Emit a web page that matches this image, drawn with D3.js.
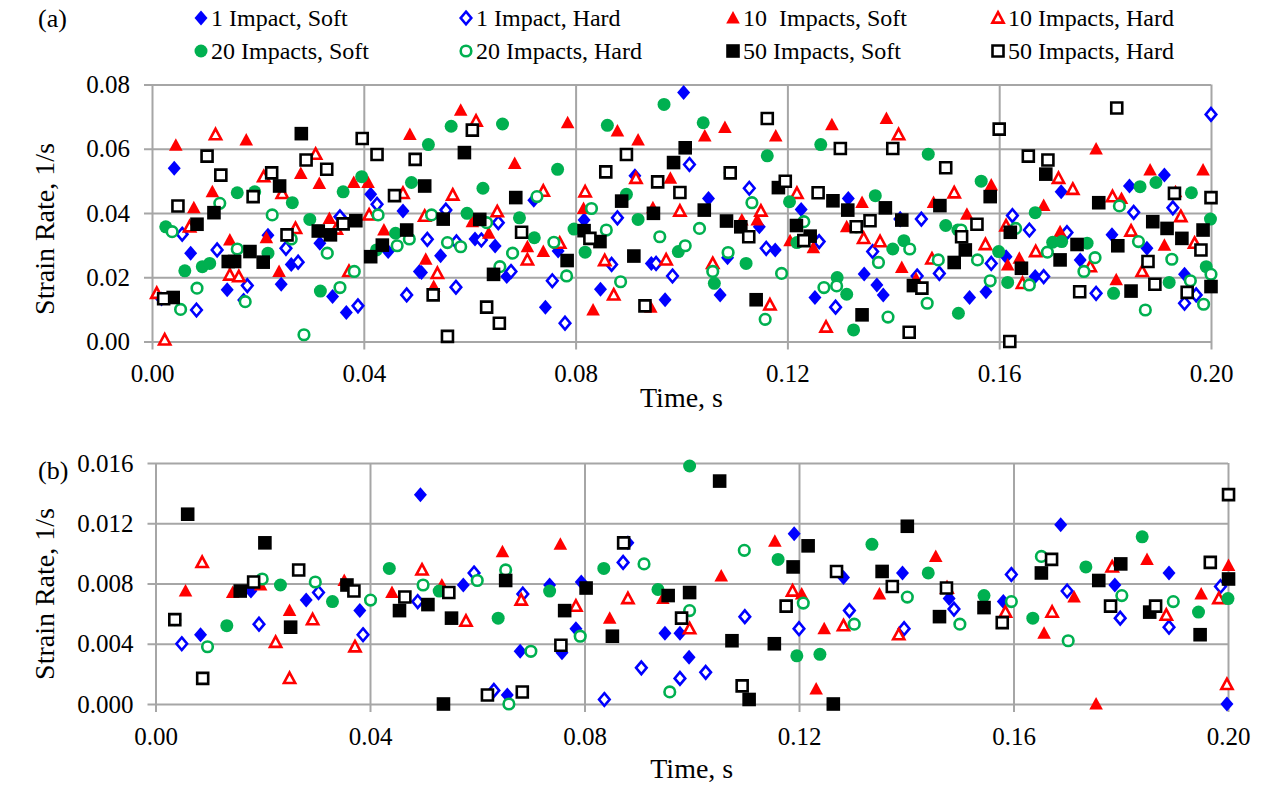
<!DOCTYPE html>
<html>
<head>
<meta charset="utf-8">
<script src="https://cdn.jsdelivr.net/npm/d3@7"></script>
<style>
  body { margin: 0; background: #fff; }
  text { font-family: "Liberation Serif", "Times New Roman", serif; fill: #000; }
</style>
</head>
<body>
<div id="chart"></div>
<script>
// ---- data: [time (s), strain rate (1/s)] ----
var impact1SoftA = [[0.0042,0.0539],[0.0474,0.0406],[0.0413,0.0458],[0.0073,0.0275],[0.0219,0.0331],[0.0263,0.024],[0.0244,0.0178],[0.0505,0.0218],[0.0142,0.0161],[0.0173,0.0129],[0.0341,0.014],[0.0367,0.009],[0.0317,0.0306],[0.0446,0.028],[0.0018,0.0132],[0.0721,0.044],[0.061,0.0319],[0.0648,0.0297],[0.0767,0.0282],[0.0545,0.0267],[0.067,0.0202],[0.0509,0.0215],[0.0743,0.0107],[0.1004,0.0775],[0.0912,0.0516],[0.0816,0.0378],[0.0943,0.0243],[0.0847,0.0163],[0.0969,0.013],[0.1051,0.0445],[0.1147,0.0357],[0.1177,0.0285],[0.1087,0.0261],[0.1073,0.0145],[0.1315,0.0445],[0.1226,0.0411],[0.1345,0.021],[0.1369,0.0176],[0.1381,0.0145],[0.1252,0.0137],[0.1717,0.0466],[0.1912,0.0518],[0.1846,0.0484],[0.1613,0.0264],[0.1753,0.0254],[0.1813,0.0332],[0.1879,0.029],[0.195,0.0209],[0.1668,0.0202],[0.1575,0.0155],[0.1544,0.0137]];
var impact1HardA = [[0.0425,0.0427],[0.0057,0.0334],[0.0123,0.0285],[0.0253,0.029],[0.0355,0.0388],[0.0276,0.0247],[0.018,0.0174],[0.0389,0.0111],[0.0481,0.0145],[0.0084,0.0098],[0.0555,0.0409],[0.0654,0.037],[0.052,0.0318],[0.0622,0.0316],[0.0575,0.031],[0.0678,0.0218],[0.0756,0.0189],[0.0574,0.0169],[0.078,0.0057],[0.1015,0.0551],[0.0879,0.0385],[0.0868,0.024],[0.0952,0.0243],[0.0983,0.0204],[0.1128,0.0477],[0.116,0.029],[0.126,0.0311],[0.1291,0.0107],[0.1413,0.0381],[0.1361,0.028],[0.1453,0.0381],[0.1487,0.0212],[0.1445,0.0204],[0.2,0.0707],[0.1854,0.0402],[0.1928,0.0416],[0.1625,0.0392],[0.1657,0.0347],[0.1728,0.0339],[0.1972,0.0145],[0.195,0.0119],[0.1783,0.015],[0.1684,0.0202],[0.1585,0.0243]];
var impact10SoftA = [[0.0045,0.0611],[0.0178,0.0627],[0.0281,0.0523],[0.0316,0.0492],[0.0381,0.0495],[0.0408,0.0495],[0.0487,0.0644],[0.0114,0.0466],[0.0079,0.0416],[0.0147,0.0316],[0.0216,0.0323],[0.0335,0.0383],[0.0438,0.0347],[0.024,0.0218],[0.0583,0.072],[0.0785,0.0681],[0.0685,0.0554],[0.0605,0.0373],[0.0636,0.0337],[0.0709,0.0295],[0.0739,0.028],[0.0517,0.0256],[0.0532,0.0171],[0.0879,0.0655],[0.0918,0.0627],[0.0979,0.0508],[0.0815,0.0414],[0.0946,0.0416],[0.0833,0.0098],[0.0942,0.0107],[0.1044,0.064],[0.1082,0.0666],[0.1178,0.064],[0.1143,0.0378],[0.1114,0.0378],[0.1284,0.0675],[0.1387,0.0694],[0.1341,0.0433],[0.1205,0.0314],[0.1249,0.0292],[0.1312,0.0357],[0.1476,0.0433],[0.1416,0.023],[0.1443,0.0195],[0.1783,0.0599],[0.1585,0.0487],[0.1885,0.0534],[0.1985,0.0534],[0.1933,0.0466],[0.1831,0.0445],[0.1684,0.0423],[0.1539,0.0396],[0.1715,0.0342],[0.1616,0.0238],[0.1638,0.0259],[0.1912,0.03],[0.1821,0.0192]];
var impact10HardA = [[0.012,0.0644],[0.0211,0.0513],[0.0246,0.0461],[0.0309,0.0583],[0.0474,0.0461],[0.0071,0.0357],[0.0271,0.0352],[0.0348,0.035],[0.041,0.0394],[0.0147,0.0207],[0.0164,0.0202],[0.0372,0.0218],[0.0009,0.015],[0.0024,0.0005],[0.0612,0.0686],[0.0568,0.0456],[0.0739,0.0468],[0.0515,0.039],[0.0652,0.0404],[0.077,0.0306],[0.0709,0.0254],[0.0539,0.0212],[0.0818,0.0466],[0.0914,0.0508],[0.0997,0.0406],[0.0855,0.0252],[0.0971,0.0254],[0.0872,0.0145],[0.1218,0.0461],[0.115,0.0406],[0.1059,0.0243],[0.1167,0.0114],[0.141,0.0644],[0.1344,0.0321],[0.1375,0.0311],[0.1515,0.0463],[0.1473,0.0257],[0.1273,0.0045],[0.1712,0.0508],[0.1739,0.0474],[0.1814,0.0451],[0.1943,0.0389],[0.1574,0.0302],[0.1613,0.036],[0.1669,0.028],[0.1772,0.0233],[0.1849,0.0344],[0.187,0.0218],[0.1969,0.0306],[0.1644,0.0181]];
var impact20SoftA = [[0.0361,0.0466],[0.0396,0.0513],[0.049,0.0495],[0.0161,0.0463],[0.0194,0.0466],[0.0265,0.0432],[0.0026,0.0357],[0.0298,0.038],[0.046,0.0337],[0.0424,0.0285],[0.0062,0.022],[0.0095,0.0233],[0.0109,0.0243],[0.0318,0.0157],[0.0219,0.0275],[0.0565,0.067],[0.0662,0.0677],[0.0522,0.0613],[0.0766,0.0536],[0.0625,0.0477],[0.0595,0.0399],[0.0694,0.0385],[0.0722,0.0323],[0.0967,0.0738],[0.086,0.0673],[0.0896,0.0458],[0.0918,0.038],[0.0797,0.035],[0.0818,0.0278],[0.0994,0.028],[0.1041,0.0681],[0.1162,0.0578],[0.1092,0.0525],[0.1204,0.0435],[0.1122,0.0243],[0.1062,0.0181],[0.1263,0.0613],[0.1466,0.0583],[0.1366,0.0454],[0.1218,0.0308],[0.1399,0.0288],[0.142,0.0314],[0.1499,0.0361],[0.1294,0.0199],[0.1312,0.0147],[0.1325,0.0036],[0.1523,0.0088],[0.1522,0.0347],[0.1566,0.0499],[0.1866,0.0482],[0.1896,0.0495],[0.1963,0.0463],[0.1999,0.0381],[0.1668,0.0401],[0.1599,0.028],[0.1701,0.0309],[0.1718,0.0311],[0.1766,0.0306],[0.1991,0.0233],[0.1921,0.0184],[0.1816,0.015],[0.1616,0.0184]];
var impact20HardA = [[0.0128,0.043],[0.0227,0.0394],[0.0038,0.0342],[0.0161,0.0288],[0.0263,0.0319],[0.0331,0.0275],[0.0427,0.0394],[0.0486,0.0319],[0.0463,0.0298],[0.0382,0.0218],[0.0085,0.0166],[0.0176,0.0124],[0.0355,0.0168],[0.0054,0.01],[0.0287,0.0021],[0.0727,0.0451],[0.0528,0.0394],[0.0632,0.037],[0.0558,0.0308],[0.0583,0.0295],[0.0759,0.0309],[0.0681,0.0275],[0.0657,0.0233],[0.0783,0.0204],[0.083,0.0414],[0.0858,0.0347],[0.0959,0.0326],[0.1007,0.0298],[0.0885,0.0186],[0.1133,0.0432],[0.1034,0.0352],[0.1088,0.0277],[0.1059,0.0218],[0.1158,0.0069],[0.1189,0.0212],[0.1231,0.0373],[0.133,0.0357],[0.1431,0.0288],[0.1372,0.0246],[0.1485,0.0254],[0.1269,0.0168],[0.1293,0.0173],[0.1464,0.0119],[0.139,0.0076],[0.1827,0.0422],[0.1528,0.0347],[0.1631,0.0352],[0.1691,0.0278],[0.1781,0.0261],[0.176,0.0218],[0.1863,0.0311],[0.1926,0.0256],[0.2,0.0209],[0.1961,0.0189],[0.1986,0.0116],[0.1876,0.0098],[0.1657,0.0176],[0.1583,0.0189],[0.1559,0.0254]];
var impact50SoftA = [[0.0282,0.0647],[0.0241,0.0484],[0.0117,0.0401],[0.0085,0.0365],[0.0314,0.0344],[0.0337,0.0332],[0.0385,0.0376],[0.0481,0.0347],[0.0435,0.03],[0.0413,0.0264],[0.0185,0.028],[0.0144,0.0249],[0.0156,0.0249],[0.021,0.0247],[0.004,0.0137],[0.059,0.0588],[0.0515,0.0484],[0.0687,0.0448],[0.055,0.0381],[0.0619,0.038],[0.0784,0.0252],[0.0645,0.0209],[0.0985,0.0557],[0.1007,0.0603],[0.0887,0.0437],[0.0947,0.0399],[0.0816,0.0345],[0.0846,0.0311],[0.091,0.0266],[0.1183,0.0479],[0.1043,0.0409],[0.1085,0.0375],[0.1112,0.0357],[0.1141,0.013],[0.1286,0.0438],[0.1314,0.0409],[0.1217,0.0361],[0.1243,0.0328],[0.1385,0.0416],[0.1416,0.0378],[0.1488,0.0423],[0.1515,0.0246],[0.1438,0.0174],[0.1341,0.0083],[0.1688,0.0521],[0.1583,0.0451],[0.1788,0.0432],[0.1536,0.0285],[0.1621,0.034],[0.1642,0.0228],[0.1715,0.0254],[0.1747,0.0302],[0.1824,0.0298],[0.189,0.0373],[0.1917,0.0352],[0.1945,0.0321],[0.1985,0.0347],[0.2,0.0171],[0.1849,0.0157]];
var impact50HardA = [[0.0104,0.0577],[0.013,0.0518],[0.0226,0.0525],[0.0291,0.0565],[0.033,0.0536],[0.0397,0.0632],[0.0425,0.0582],[0.0497,0.0567],[0.0458,0.0454],[0.0191,0.0451],[0.0049,0.0422],[0.0255,0.0332],[0.0361,0.0366],[0.0022,0.0133],[0.0605,0.0658],[0.0698,0.034],[0.0531,0.0145],[0.0632,0.0107],[0.0656,0.0057],[0.0558,0.0016],[0.0896,0.0582],[0.0857,0.0528],[0.0955,0.0497],[0.0997,0.0464],[0.0827,0.0321],[0.0931,0.0111],[0.1162,0.0694],[0.1092,0.0525],[0.1196,0.0499],[0.1127,0.0326],[0.13,0.0601],[0.1399,0.0601],[0.1499,0.0541],[0.1258,0.0463],[0.1231,0.0314],[0.133,0.0357],[0.1356,0.0376],[0.1454,0.0166],[0.143,0.0029],[0.16,0.0661],[0.1822,0.0727],[0.1655,0.0577],[0.1692,0.0565],[0.1931,0.0461],[0.2,0.0448],[0.1558,0.0365],[0.1529,0.0326],[0.1881,0.0249],[0.1981,0.0285],[0.1955,0.0153],[0.1894,0.0178],[0.1752,0.0155],[0.162,0.0]];

var impact1SoftB = [[0.0494,0.0139],[0.0178,0.0075],[0.0281,0.0069],[0.0381,0.0062],[0.0084,0.0046],[0.0574,0.0079],[0.0656,0.0006],[0.0735,0.0079],[0.0794,0.0081],[0.0881,0.0107],[0.095,0.0047],[0.0978,0.0047],[0.0784,0.005],[0.068,0.0035],[0.0758,0.0034],[0.0995,0.0031],[0.1191,0.0113],[0.1283,0.0084],[0.1688,0.0119],[0.1393,0.0087],[0.189,0.0087],[0.1789,0.0079],[0.148,0.007],[0.1581,0.0068],[0.1998,0.0]];
var impact1HardB = [[0.0304,0.0074],[0.0387,0.0046],[0.0193,0.0053],[0.0049,0.004],[0.0489,0.0068],[0.0594,0.0087],[0.0631,0.0009],[0.0685,0.0073],[0.0872,0.0094],[0.0906,0.0024],[0.1026,0.0021],[0.0978,0.0017],[0.0837,0.0003],[0.1099,0.0058],[0.12,0.005],[0.1294,0.0062],[0.1596,0.0086],[0.1489,0.0063],[0.1396,0.005],[0.17,0.0075],[0.1799,0.0057],[0.189,0.0051],[0.1986,0.0078]];
var impact10SoftB = [[0.0647,0.0101],[0.0056,0.0075],[0.0144,0.0074],[0.0196,0.0079],[0.0352,0.0082],[0.025,0.0062],[0.0441,0.0074],[0.0534,0.0079],[0.0755,0.0106],[0.0847,0.0057],[0.0946,0.007],[0.1055,0.0085],[0.1155,0.0108],[0.1247,0.005],[0.1232,0.001],[0.1205,0.0073],[0.1455,0.0098],[0.1849,0.0096],[0.2001,0.0092],[0.135,0.0073],[0.1713,0.0071],[0.1657,0.0047],[0.195,0.0073],[0.1754,0.0]];
var impact10HardB = [[0.0087,0.0094],[0.0293,0.0056],[0.0224,0.0041],[0.0372,0.0038],[0.025,0.0017],[0.0497,0.0089],[0.0579,0.0055],[0.0682,0.0069],[0.0784,0.0065],[0.0881,0.007],[0.0996,0.005],[0.1188,0.0075],[0.1283,0.0052],[0.1784,0.0091],[0.1476,0.0077],[0.1585,0.0061],[0.1386,0.0046],[0.1672,0.0061],[0.1885,0.0059],[0.1983,0.007],[0.1998,0.0013]];
var impact20SoftB = [[0.0233,0.0079],[0.033,0.0068],[0.0133,0.0052],[0.0036,0.0056],[0.0436,0.009],[0.0529,0.0075],[0.0639,0.0057],[0.0996,0.0158],[0.0836,0.009],[0.0735,0.0075],[0.0937,0.0076],[0.1161,0.0096],[0.1196,0.0032],[0.1239,0.0033],[0.1336,0.0106],[0.184,0.0111],[0.1735,0.0091],[0.1441,0.0087],[0.1545,0.0072],[0.1636,0.0057],[0.1945,0.0061],[0.2,0.007]];
var impact20HardB = [[0.0199,0.0083],[0.0298,0.0081],[0.0401,0.0069],[0.0097,0.0038],[0.0499,0.0079],[0.06,0.0082],[0.0653,0.0089],[0.0659,0.0],[0.0911,0.0093],[0.0996,0.0062],[0.0792,0.0045],[0.07,0.0035],[0.0959,0.0008],[0.1098,0.0102],[0.1208,0.0067],[0.1303,0.0053],[0.1652,0.0098],[0.1402,0.0071],[0.15,0.0053],[0.1596,0.0068],[0.1802,0.0072],[0.1702,0.0042],[0.1898,0.0068]];
var impact50SoftB = [[0.006,0.0126],[0.0204,0.0107],[0.0158,0.0075],[0.0357,0.0079],[0.0252,0.0051],[0.0508,0.0066],[0.0455,0.0062],[0.0552,0.0057],[0.0653,0.0082],[0.0537,0.0],[0.1052,0.0148],[0.0803,0.0077],[0.0763,0.0062],[0.0852,0.0045],[0.0956,0.0072],[0.0996,0.0074],[0.1075,0.0042],[0.1154,0.004],[0.1217,0.0105],[0.1189,0.0091],[0.1264,0.0],[0.1107,0.0003],[0.1402,0.0118],[0.18,0.0093],[0.1355,0.0088],[0.1652,0.0087],[0.2001,0.0083],[0.1759,0.0082],[0.1545,0.0064],[0.1462,0.0058],[0.1854,0.0061],[0.1948,0.0046]];
var impact50HardB = [[0.0267,0.0089],[0.0183,0.0081],[0.037,0.0075],[0.0036,0.0056],[0.0088,0.0017],[0.0465,0.0071],[0.0547,0.0074],[0.0619,0.0006],[0.0873,0.0107],[0.0981,0.0057],[0.0756,0.0039],[0.0684,0.0008],[0.127,0.0088],[0.1176,0.0065],[0.1094,0.0012],[0.2001,0.0139],[0.1967,0.0094],[0.1671,0.0096],[0.1374,0.0078],[0.1475,0.0077],[0.1579,0.0054],[0.1781,0.0065],[0.1865,0.0065]];

var seriesNames = ["1 Impact, Soft", "1 Impact, Hard", "10  Impacts, Soft", "10 Impacts, Hard",
                   "20 Impacts, Soft", "20 Impacts, Hard", "50 Impacts, Soft", "50 Impacts, Hard"];
var seriesColors = ["#0000ff", "#0000ff", "#ff0000", "#ff0000", "#00b050", "#00b050", "#000000", "#000000"];
var seriesShapes = ["diamond", "diamond", "triangle", "triangle", "circle", "circle", "square", "square"];
var seriesFilled = [true, false, true, false, true, false, true, false];

var xTicks = [0, 0.04, 0.08, 0.12, 0.16, 0.20];
var yTicksA = [0, 0.02, 0.04, 0.06, 0.08];
var yTicksB = [0, 0.004, 0.008, 0.012, 0.016];

var width = 1263, height = 785;
var gridColor = "#a6a6a6";

var svg = d3.select("#chart").append("svg")
    .attr("width", width)
    .attr("height", height);

// marker outline, centred on 0,0
function markerPath(shape, filled) {
  if (shape === "diamond") {
    var a = filled ? 6.5 : 5.3, b = filled ? 7.5 : 6.3;
    return "M0," + (-b) + "L" + a + ",0L0," + b + "L" + (-a) + ",0Z";
  }
  if (shape === "triangle") {
    var w = filled ? 6.8 : 5.6, t = filled ? 7 : 5.8, u = filled ? 5.5 : 4.6;
    return "M0," + (-t) + "L" + w + "," + u + "L" + (-w) + "," + u + "Z";
  }
  if (shape === "square") {
    var s = filled ? 6.8 : 5.5;
    return "M" + (-s) + "," + (-s) + "H" + s + "V" + s + "H" + (-s) + "Z";
  }
  var r = filled ? 6.5 : 5.3;
  return "M" + r + ",0A" + r + "," + r + " 0 1,1 " + (-r) + ",0A" + r + "," + r + " 0 1,1 " + r + ",0Z";
}

function styleMarker(sel, i) {
  sel.attr("d", markerPath(seriesShapes[i], seriesFilled[i]))
    .attr("fill", seriesFilled[i] ? seriesColors[i] : "#fff")
    .attr("stroke", seriesColors[i])
    .attr("stroke-width", seriesFilled[i] ? 0 : 2.6);
}

function drawPanel(p) {
  var x = d3.scaleLinear().domain([0, 0.2]).range([p.left, p.right]);
  var y = d3.scaleLinear().domain([0, p.yMax]).range([p.bottom, p.top]);

  // y axis: gridlines run across the plot, with an 8px tick sticking out on the left
  var yAxis = svg.append("g")
      .attr("transform", "translate(" + (p.left - 8) + ",0)")
      .call(d3.axisLeft(y).tickValues(p.yTicks).tickFormat(d3.format(p.fmt))
        .tickSize(-(p.right - p.left + 8)).tickPadding(14));
  yAxis.select(".domain").remove();
  yAxis.selectAll("line").attr("stroke", gridColor).attr("stroke-width", 2);
  yAxis.selectAll("text").style("font-size", "25px").attr("fill", "#000");

  var xAxis = svg.append("g")
      .attr("transform", "translate(0," + (p.bottom + 8) + ")")
      .call(d3.axisBottom(x).tickValues(xTicks).tickFormat(d3.format(".2f"))
        .tickSize(-(p.bottom - p.top + 8)).tickPadding(15));
  xAxis.select(".domain").remove();
  xAxis.selectAll("line").attr("stroke", gridColor).attr("stroke-width", 2);
  xAxis.selectAll("text").style("font-size", "25px").attr("fill", "#000");

  // series, drawn in legend order (later ones on top)
  p.series.forEach(function(data, i) {
    svg.append("g").selectAll("path")
      .data(data)
      .enter()
      .append("path")
        .attr("transform", function(d) { return "translate(" + x(d[0]) + "," + y(d[1]) + ")"; })
        .call(styleMarker, i);
  });

  svg.append("text")
    .attr("x", (p.left + p.right) / 2)
    .attr("y", p.xTitleY)
    .attr("text-anchor", "middle")
    .style("font-size", "28px")
    .text("Time, s");

  svg.append("text")
    .attr("transform", "translate(54," + p.yTitleY + ") rotate(-90)")
    .attr("text-anchor", "middle")
    .style("font-size", "28px")
    .text("Strain Rate, 1/s");

  svg.append("text")
    .attr("x", 38)
    .attr("y", p.tagY)
    .style("font-size", "26px")
    .text(p.tag);
}

drawPanel({
  tag: "(a)", tagY: 27,
  left: 152, right: 1211, top: 84.5, bottom: 341.5,
  yMax: 0.08, yTicks: yTicksA, fmt: ".2f",
  xTitleY: 407, yTitleY: 229,
  series: [impact1SoftA, impact1HardA, impact10SoftA, impact10HardA,
           impact20SoftA, impact20HardA, impact50SoftA, impact50HardA]
});

drawPanel({
  tag: "(b)", tagY: 479,
  left: 155.5, right: 1228, top: 463, bottom: 704,
  yMax: 0.016, yTicks: yTicksB, fmt: ".3f",
  xTitleY: 778, yTitleY: 594,
  series: [impact1SoftB, impact1HardB, impact10SoftB, impact10HardB,
           impact20SoftB, impact20HardB, impact50SoftB, impact50HardB]
});

// legend, 4 columns x 2 rows
var legendX = [201, 466, 733, 998];
var legendY = [18, 51];
var legend = svg.append("g").selectAll("g")
  .data(seriesNames)
  .enter()
  .append("g")
    .attr("transform", function(d, i) {
      var col = Math.floor(i / 4) === 0 ? i : i - 4;
      return "translate(" + legendX[col] + "," + legendY[Math.floor(i / 4)] + ")";
    });

legend.append("path")
  .each(function(d, i) { d3.select(this).call(styleMarker, i); });

legend.append("text")
  .attr("x", 10)
  .attr("y", 8)
  .style("font-size", "24px")
  .style("white-space", "pre")
  .text(function(d) { return d; });
</script>
</body>
</html>
